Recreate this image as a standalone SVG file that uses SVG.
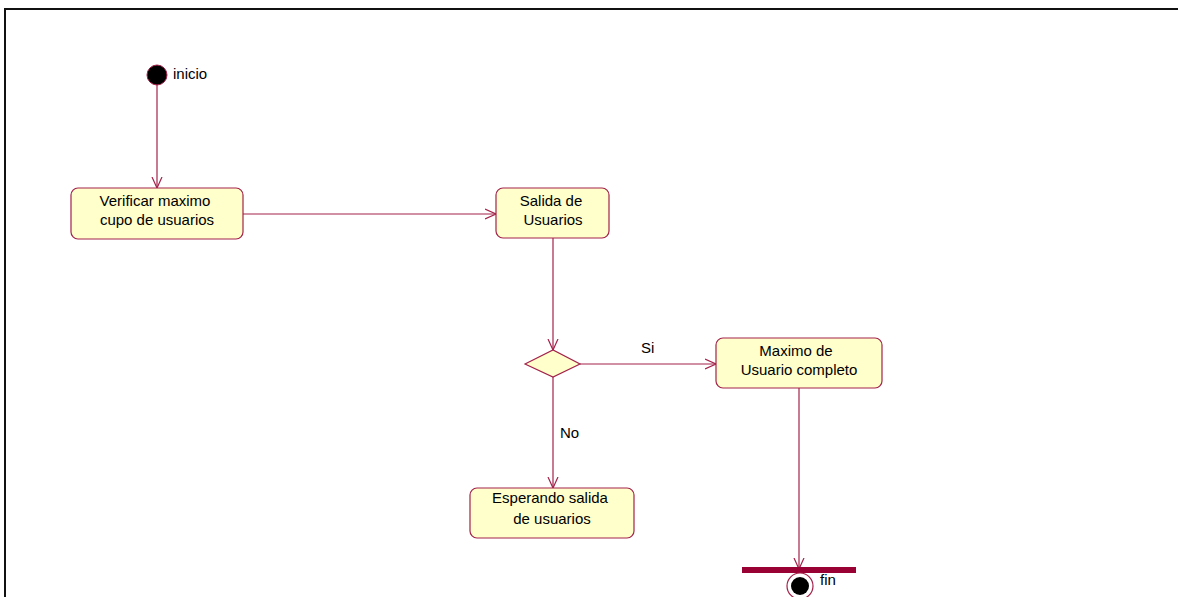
<svg xmlns="http://www.w3.org/2000/svg" width="1178" height="597" viewBox="0 0 1178 597">
  <style>
    .frame { fill: none; stroke: #111; stroke-width: 2; }
    .act { fill: #ffffcc; stroke: #a3224a; stroke-width: 1.2; }
    .edge { fill: none; stroke: #a3224a; stroke-width: 1.2; }
    .lbl { font-family: "Liberation Sans", Arial, sans-serif; font-size: 15px; fill: #000; }
    .mid { text-anchor: middle; }
  </style>
  <defs>
    <marker id="open" viewBox="0 0 12 12" refX="11" refY="6" markerWidth="12" markerHeight="12" markerUnits="userSpaceOnUse" orient="auto">
      <path d="M0,1 L11,6 L0,11" fill="none" stroke="#a3224a" stroke-width="1.2"/>
    </marker>
  </defs>
  <rect width="1178" height="597" fill="#fff"/>
  <path class="frame" d="M5,597 L5,9 L1178,9"/>

  <g id="connectors">
    <line class="edge" x1="157" y1="85" x2="157" y2="188" marker-end="url(#open)"/>
    <line class="edge" x1="243" y1="214" x2="496" y2="214" marker-end="url(#open)"/>
    <line class="edge" x1="553" y1="238" x2="553" y2="350" marker-end="url(#open)"/>
    <line class="edge" x1="580" y1="364" x2="716" y2="364" marker-end="url(#open)"/>
    <line class="edge" x1="553" y1="377" x2="553" y2="488" marker-end="url(#open)"/>
    <line class="edge" x1="799" y1="388" x2="799" y2="569" marker-end="url(#open)"/>
    <text class="lbl" x="641" y="353">Si</text>
    <text class="lbl" x="560" y="438">No</text>
  </g>

  <g id="inicio">
    <circle cx="157" cy="75" r="10" fill="#000" stroke="#a3224a" stroke-width="1"/>
    <text class="lbl" x="173" y="79">inicio</text>
  </g>

  <g id="verificar">
    <rect class="act" x="71" y="188" width="172" height="51" rx="7"/>
    <text class="lbl mid" x="155" y="206">Verificar maximo</text>
    <text class="lbl mid" x="157" y="225">cupo de usuarios</text>
  </g>

  <g id="salida">
    <rect class="act" x="496" y="188" width="113" height="50" rx="7"/>
    <text class="lbl mid" x="551" y="206">Salida de</text>
    <text class="lbl mid" x="553" y="225">Usuarios</text>
  </g>

  <g id="decision">
    <polygon class="act" points="525,364 553,350 580,364 553,377"/>
  </g>

  <g id="maximo">
    <rect class="act" x="716" y="338" width="166" height="50" rx="7"/>
    <text class="lbl mid" x="796" y="356">Maximo de</text>
    <text class="lbl mid" x="799" y="375">Usuario completo</text>
  </g>

  <g id="esperando">
    <rect class="act" x="470" y="488" width="164" height="50" rx="7"/>
    <text class="lbl mid" x="550" y="503">Esperando salida</text>
    <text class="lbl mid" x="552" y="524">de usuarios</text>
  </g>

  <g id="sync">
    <rect x="742" y="567" width="114" height="6" fill="#990033"/>
  </g>

  <g id="fin">
    <circle cx="800" cy="586" r="13" fill="#fff" stroke="#a3224a" stroke-width="1.2"/>
    <circle cx="800" cy="586" r="9" fill="#000"/>
    <text class="lbl" x="820" y="585">fin</text>
  </g>
</svg>
